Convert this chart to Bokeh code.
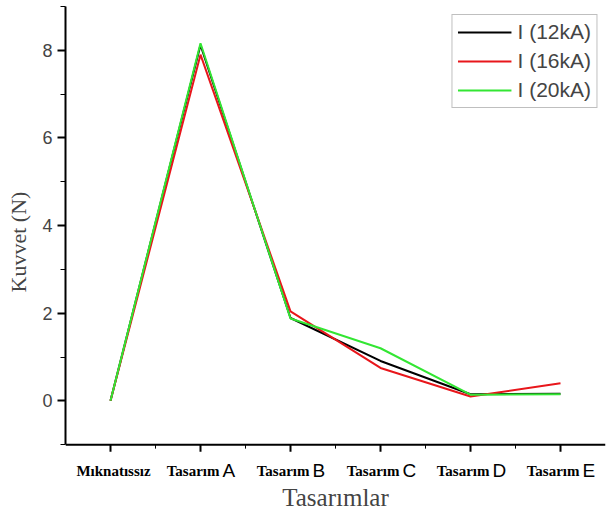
from bokeh.plotting import figure
from bokeh.models import FixedTicker, Legend, LegendItem
from bokeh.core.properties import value
from bokeh.embed import file_html
from bokeh.resources import INLINE

categories = ["Mıknatıssız", "Tasarım A", "Tasarım B", "Tasarım C", "Tasarım D", "Tasarım E"]
i12 = [0.0, 8.12, 1.89, 0.91, 0.15, 0.16]
i16 = [0.0, 7.90, 2.04, 0.75, 0.10, 0.40]
i20 = [0.0, 8.16, 1.88, 1.20, 0.14, 0.15]
series_names = ["I (12kA)", "I (16kA)", "I (20kA)"]
colors = ["#000000", "#e8161b", "#33e633"]
y_ticks = [0, 2, 4, 6, 8]
y_minor = [-1, 1, 3, 5, 7, 9]

xs = list(range(len(categories)))
x_lo, x_hi = -0.5, len(categories) - 0.5
y_axis_lo, y_axis_hi = -1, 9      # visible y axis span; x axis sits at y_axis_lo
y_frame_lo = -1.75                 # extra room under the axis for category labels

p = figure(width=607, height=513, output_backend="svg", toolbar_location=None,
           x_range=(x_lo, x_hi), y_range=(y_frame_lo, y_axis_hi),
           min_border_left=65, min_border_right=2, min_border_top=6, min_border_bottom=35)
p.outline_line_color = None
p.grid.visible = False
p.background_fill_color = "white"
p.border_fill_color = "white"

renderers = []
for ys, c in zip([i12, i16, i20], colors):
    r = p.line(xs, ys, line_color=c, line_width=2)
    renderers.append(r)

# bottom axis drawn at y = y_axis_lo with glyphs
px_per_unit = 43.9
major_len = 7 / px_per_unit
minor_len = 4 / px_per_unit
p.segment(x0=[x_lo], y0=[y_axis_lo], x1=[x_hi], y1=[y_axis_lo], line_color="black", line_width=2)
p.segment(x0=xs, y0=[y_axis_lo] * len(xs), x1=xs, y1=[y_axis_lo - major_len] * len(xs),
          line_color="black", line_width=2)
mx = [x + 0.5 for x in xs[:-1]]
p.segment(x0=mx, y0=[y_axis_lo] * len(mx), x1=mx, y1=[y_axis_lo - minor_len] * len(mx),
          line_color="black", line_width=1)

# category labels: bold serif word + sans letter
words, letters = [], []
for c in categories:
    parts = c.split(" ")
    words.append(parts[0])
    letters.append(parts[1] if len(parts) > 1 else "")

p.text(x=xs[1:], y=[y_axis_lo] * 5, text=words[1:], x_offset=19, y_offset=26,
       text_align="right", text_baseline="alphabetic",
       text_font=value("Liberation Serif"), text_font_style="bold",
       text_font_size="15px", text_color="black")
p.text(x=xs[1:], y=[y_axis_lo] * 5, text=letters[1:], x_offset=22, y_offset=26,
       text_align="left", text_baseline="alphabetic",
       text_font=value("Liberation Sans"), text_font_size="19px", text_color="black")
p.text(x=xs[:1], y=[y_axis_lo], text=words[:1], x_offset=3, y_offset=26,
       text_align="center", text_baseline="alphabetic",
       text_font=value("Liberation Serif"), text_font_style="bold",
       text_font_size="15px", text_color="black")

# x axis only carries the title
xa = p.xaxis[0]
xa.ticker = FixedTicker(ticks=[])
xa.axis_line_color = None
xa.major_tick_line_color = None
xa.minor_tick_line_color = None
xa.major_label_text_font_size = "1px"
xa.axis_label = "Tasarımlar"
xa.axis_label_text_font = "Liberation Serif"
xa.axis_label_text_font_style = "normal"
xa.axis_label_text_font_size = "25px"
xa.axis_label_standoff = 6

ya = p.yaxis[0]
ya.bounds = (y_axis_lo, y_axis_hi)
ya.ticker = FixedTicker(ticks=y_ticks, minor_ticks=y_minor)
ya.major_label_text_font = "Liberation Sans"
ya.major_label_text_font_size = "18px"
ya.major_label_standoff = 5
ya.axis_label = "Kuvvet (N)"
ya.axis_label_text_font = "Liberation Serif"
ya.axis_label_text_font_style = "normal"
ya.axis_label_text_font_size = "22px"
ya.axis_label_standoff = 8
ya.axis_line_width = 2
ya.major_tick_line_width = 2
ya.minor_tick_line_width = 1
ya.major_tick_out = 8
ya.major_tick_in = 0
ya.minor_tick_out = 5
ya.minor_tick_in = 0

legend = Legend(items=[LegendItem(label=n, renderers=[r]) for n, r in zip(series_names, renderers)],
                location="top_right")
legend.margin = 8
legend.padding = 5
legend.spacing = 5
legend.glyph_width = 54
legend.glyph_height = 22
legend.label_height = 22
legend.label_standoff = 6
legend.label_text_font = "Liberation Sans"
legend.label_text_font_size = "21px"
legend.border_line_color = "#808080"
legend.border_line_width = 1
legend.background_fill_alpha = 1
p.add_layout(legend)

open("out.html", "w").write(file_html(p, INLINE))
